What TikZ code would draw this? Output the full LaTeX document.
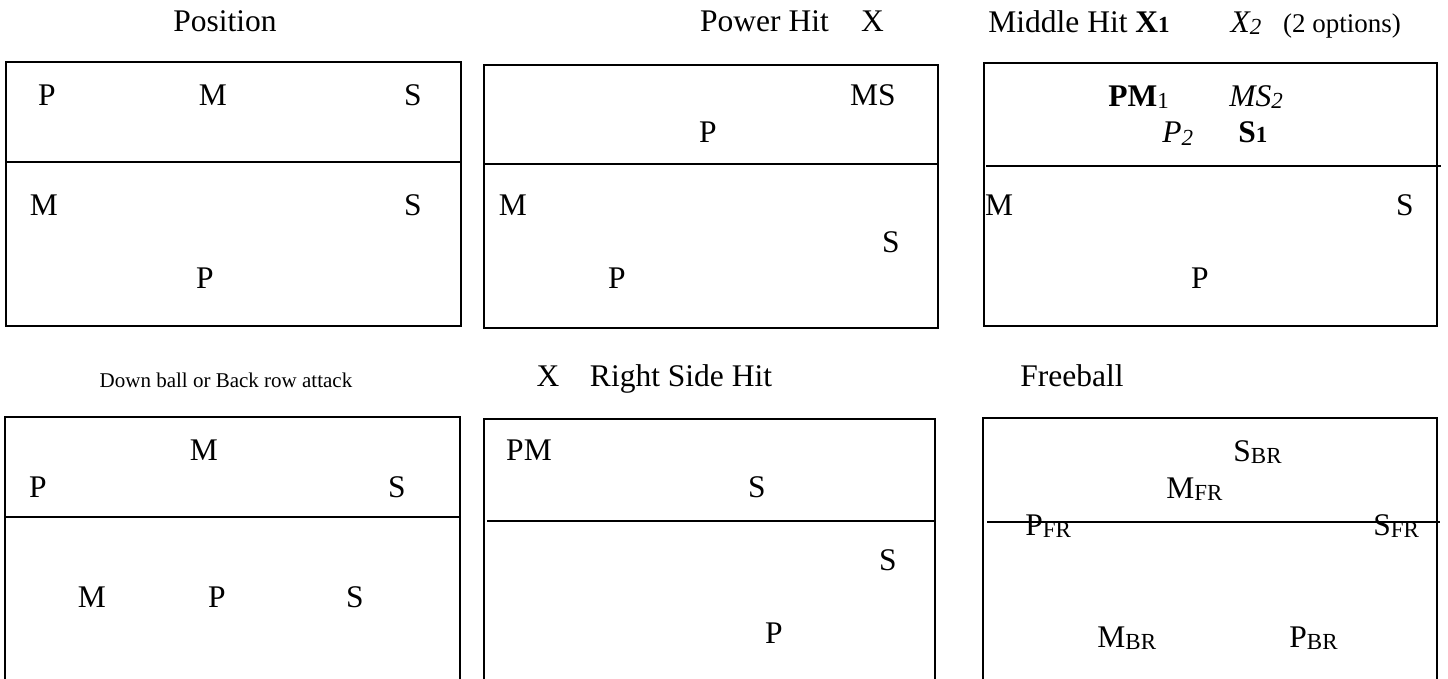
\documentclass[tikz,border=0pt]{standalone}
\usepackage{fontspec}
\setmainfont{Liberation Serif}
\newcommand\smallsub[2][0pt]{\raisebox{#1}{\fontsize{11.5pt}{12pt}\selectfont #2}}
\newcommand\posr[2]{#1\smallsub[-1pt]{#2}}
\begin{document}
\begin{tikzpicture}[x=0.5pt,y=-0.5pt,
  every node/.style={font=\fontsize{15.75pt}{18pt}\selectfont, inner sep=0pt, anchor=base},
  court/.style={line width=1.3pt, line cap=butt},
  westlbl/.style={anchor=base west},
  smalltitle/.style={font=\fontsize{10.5pt}{12pt}\selectfont},
  opttitle/.style={font=\fontsize{13.5pt}{15pt}\selectfont}]
\useasboundingbox (0,0) rectangle (1448,679);

% ---- courts, top row
\draw[court] (6,62) rectangle (461,326);
\draw[court] (6,162) -- (461,162);
\draw[court] (484,65) rectangle (938,328);
\draw[court] (484,164) -- (938,164);
\draw[court] (984,63) rectangle (1437,326);
\draw[court] (986,166) -- (1441,166);
% ---- courts, bottom row (cut off at bottom)
\draw[court] (5,679) -- (5,417) -- (460,417) -- (460,679);
\draw[court] (5,517) -- (460,517);
\draw[court] (484,679) -- (484,419) -- (935,419) -- (935,679);
\draw[court] (487,521) -- (935,521);
\draw[court] (983,679) -- (983,418) -- (1437,418) -- (1437,679);
\draw[court] (987,522) -- (1440,522);

% ---- titles
\node (t1) at (225,32) {Position};
\node (t2) at (764.5,32) {Power Hit};
\node (t2x) at (872.5,32) {X};
\node[westlbl] (t3) at (988,33) {Middle Hit \textbf{X\smallsub{1}}};
\node (t3b) at (1246,33) {\textit{X\smallsub[-1pt]{2}}};
\node[opttitle] (t3c) at (1342,33) {(2 options)};
\node[smalltitle] (t4) at (226,388) {Down ball or Back row attack};
\node (t5x) at (548,387) {X};
\node (t5) at (681,387) {Right Side Hit};
\node (t6) at (1072,387) {Freeball};

% ---- court 1: Position
\node (a1) at (47,106) {P};
\node (a2) at (213,106) {M};
\node (a3) at (413,106) {S};
\node (a4) at (44,216) {M};
\node (a5) at (413,216) {S};
\node (a6) at (205,289) {P};

% ---- court 2: Power Hit
\node (b1) at (873,106) {MS};
\node (b2) at (708,143) {P};
\node (b3) at (513,216) {M};
\node (b4) at (891,253) {S};
\node (b5) at (617,289) {P};

% ---- court 3: Middle Hit
\node[westlbl] (c1) at (1108,107) {\textbf{PM}\smallsub[-1pt]{1}};
\node[westlbl] (c2) at (1229,107) {\textit{MS\smallsub[-1pt]{2}}};
\node[westlbl] (c3) at (1162,143) {\textit{P\smallsub[-1.5pt]{2}}};
\node[westlbl] (c4) at (1238,143) {\textbf{S\smallsub{1}}};
\node (c5) at (999,216) {M};
\node (c6) at (1405,216) {S};
\node (c7) at (1200,289) {P};

% ---- court 4: Down ball
\node (d1) at (204,461) {M};
\node (d2) at (38,498) {P};
\node (d3) at (397,498) {S};
\node (d4) at (92,608) {M};
\node (d5) at (217,608) {P};
\node (d6) at (355,608) {S};

% ---- court 5: Right Side Hit
\node (e1) at (529,461) {PM};
\node (e2) at (757,498) {S};
\node (e3) at (888,571) {S};
\node (e4) at (774,644) {P};

% ---- court 6: Freeball
\node[westlbl] (f1) at (1233,462) {\posr{S}{BR}};
\node[westlbl] (f2) at (1166,499) {\posr{M}{FR}};
\node[westlbl] (f3) at (1025,536) {\posr{P}{FR}};
\node[westlbl] (f4) at (1373,536) {\posr{S}{FR}};
\node[westlbl] (f5) at (1097,647) {\posr{M}{BR}};
\node[westlbl] (f6) at (1289,647) {\posr{P}{BR}};
\end{tikzpicture}
\end{document}
